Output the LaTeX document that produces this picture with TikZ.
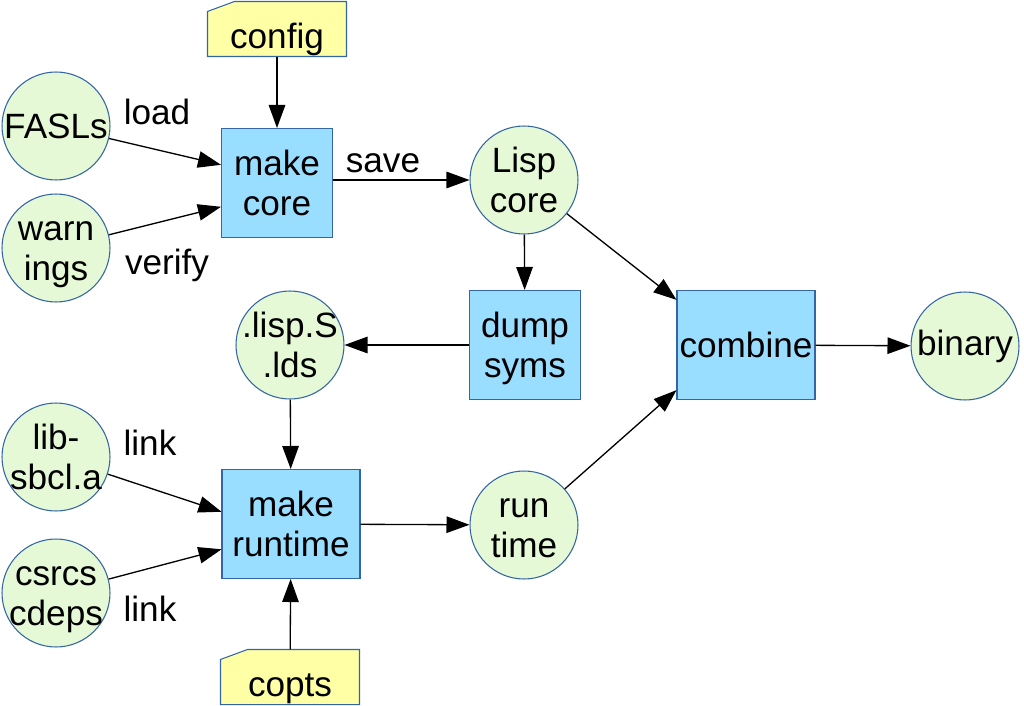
\documentclass[tikz,border=0pt]{standalone}
\usepackage{fontspec}
\setmainfont{Liberation Sans}
\usetikzlibrary{arrows.meta, backgrounds}
\definecolor{lineblue}{HTML}{3465A4}
\definecolor{stepfill}{HTML}{99DDFF}
\definecolor{datafill}{HTML}{E6F9D7}
\definecolor{notefill}{HTML}{FFFFA6}
% two lines with fixed line heights
\newcommand{\stacktext}[2]{\rule{0pt}{18.6pt}#1\\#2\rule[-4.4pt]{0pt}{4.4pt}}

\begin{document}
\begin{tikzpicture}[
    x=0.02cm, y=-0.02cm,
    % Define styles
    base/.style={draw=lineblue, line width=0.6pt, align=center, inner sep=0pt, font=\fontsize{20}{22.7}\selectfont},
    data/.style={base, circle, fill=datafill, minimum size=2.16cm, inner sep=-5pt},
    stepbox/.style={base, rectangle, fill=stepfill, minimum width=2.22cm, minimum height=2.18cm},
    wide/.style={minimum width=2.76cm},
    note/.style={base, draw=none, rectangle, minimum width=2.76cm, minimum height=1.08cm, text height=26pt, text depth=4.2pt},
    notepaper/.style={draw=lineblue, line width=0.6pt, fill=notefill},
    edgetext/.style={inner sep=0pt, font=\fontsize{20}{22.7}\selectfont},
    arrow/.style={-{Triangle[length=0.46cm, width=0.33cm]}, line width=0.75pt}
  ]
  \useasboundingbox (0,0) rectangle (1024,706);

  % Core build
  \node[note] (config) at (277,29) {config};
  \node[data] (fasls) at (56,126) {FASLs};
  \node[data] (warnings) at (56,248) {\stacktext{warn}{ings}};
  \node[stepbox] (makecore) at (277,183) {\stacktext{make}{core}};
  \node[data] (lispcore) at (524,180) {\stacktext{Lisp}{core}};
  \node[stepbox] (dumpsyms) at (525,345) {\stacktext{dump}{syms}};

  % Runtime build
  \node[data] (lispsyms) at (290,345) {\stacktext{.lisp.S}{.lds}};
  \node[data] (libsbcl) at (56,457) {\stacktext{lib-}{sbcl.a}};
  \node[data] (csrcs) at (56,593) {\stacktext{csrcs}{cdeps}};
  \node[stepbox, wide] (makeruntime) at (291,524) {\stacktext{make}{runtime}};
  \node[data] (runtime) at (524,525) {\stacktext{run}{time}};
  \node[note] (copts) at (290,677) {copts};

  % Final output
  \node[stepbox, wide] (combine) at (746,345) {combine};
  \node[data] (binary) at (965,346) {binary};

  % Note sheets with folded corner
  \begin{scope}[on background layer]
    \foreach \n in {config, copts}
      \filldraw[notepaper] (\n.south west) -- ([yshift=-0.2cm]\n.north west)
        -- ([xshift=0.54cm]\n.north west) -- (\n.north east) -- (\n.south east) -- cycle;
  \end{scope}

  % Edge texts
  \node[edgetext] (load) at (157,112) {load};
  \node[edgetext] (verify) at (167,265) {verify};
  \node[edgetext] (save) at (383,163) {save};
  \node[edgetext] (linklib) at (150,443) {link};
  \node[edgetext] (linksrc) at (150,609) {link};

  % Arrows
  \draw[arrow] (config) -- (makecore);
  \draw[arrow] (fasls) -- (makecore.162);
  \draw[arrow] (warnings) -- (makecore.203);
  \draw[arrow] (makecore.east |- lispcore) -- (lispcore);
  \draw[arrow] (lispcore) -- (dumpsyms);
  \draw[arrow] (lispcore) -- (combine.147);
  \draw[arrow] (dumpsyms) -- (lispsyms);
  \draw[arrow] (lispsyms) -- (makeruntime);
  \draw[arrow] (libsbcl) -- (makeruntime.170);
  \draw[arrow] (csrcs) -- (makeruntime.200);
  \draw[arrow] (makeruntime) -- (runtime);
  \draw[arrow] (copts) -- (makeruntime);
  \draw[arrow] (runtime) -- (combine.213);
  \draw[arrow] (combine) -- (binary);

\end{tikzpicture}
\end{document}
